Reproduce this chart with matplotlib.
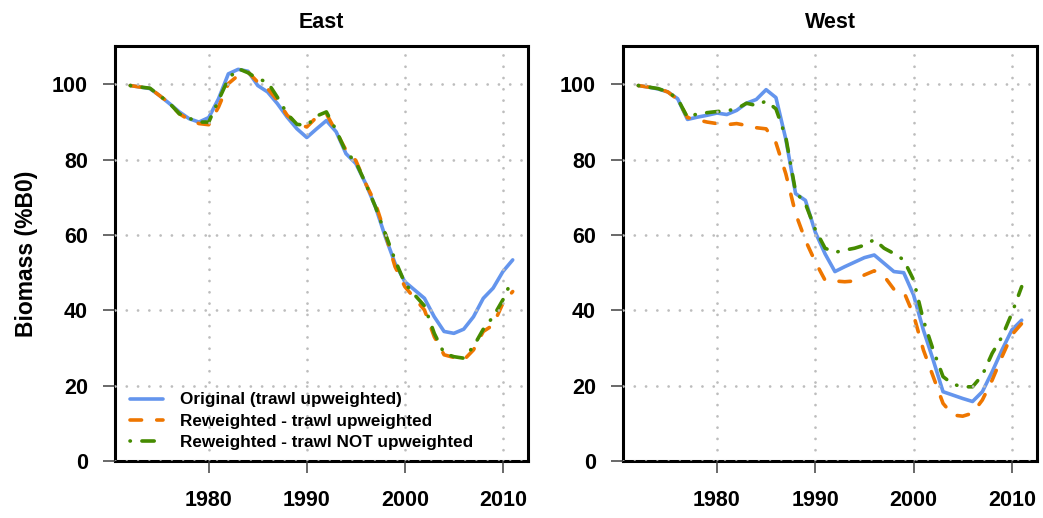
import numpy as np
import matplotlib
matplotlib.use("Agg")
import matplotlib.pyplot as plt

plt.rcParams['font.family'] = ['Liberation Sans', 'DejaVu Sans']
plt.rcParams['font.weight'] = 'bold'

years = np.arange(1972, 2012)

# Biomass (%B0) by region, one list per model run
east_original = [99.7, 99.3, 98.9, 97.0, 94.9, 92.7, 90.9, 90.0, 91.2, 96.2,
                 102.8, 104.0, 103.5, 99.7, 98.0, 94.9, 91.3, 88.2, 85.9, 88.2,
                 90.4, 87.4, 81.6, 79.0, 73.7, 67.5, 59.6, 52.5, 47.6, 45.4,
                 43.2, 38.3, 34.4, 33.9, 35.0, 38.3, 43.2, 45.9, 50.3, 53.4]
east_rw_up = [99.7, 99.3, 99.0, 97.0, 95.0, 92.2, 90.6, 89.6, 89.3, 94.0,
              100.2, 102.4, 103.3, 100.6, 98.9, 95.8, 91.8, 89.6, 88.7, 91.3,
              92.2, 87.4, 82.5, 79.8, 73.7, 68.4, 60.4, 51.6, 46.3, 43.2,
              40.1, 33.0, 28.2, 27.5, 26.8, 29.5, 34.4, 36.1, 41.9, 45.0]
east_rw_notup = [99.7, 99.3, 99.0, 97.0, 95.0, 92.2, 91.0, 90.0, 90.0, 95.8,
                 101.5, 104.2, 103.1, 101.5, 100.6, 96.6, 92.2, 89.4, 89.1, 91.6,
                 92.7, 87.8, 82.0, 79.4, 73.7, 67.5, 60.4, 53.4, 47.2, 44.1,
                 41.2, 33.9, 28.6, 27.7, 27.3, 30.4, 35.0, 38.3, 42.8, 48.5]

west_original = [99.7, 99.3, 98.8, 98.0, 96.2, 90.7, 91.3, 91.8, 92.4, 92.0,
                 93.1, 95.0, 96.0, 98.6, 96.5, 85.5, 71.0, 69.2, 60.8, 55.0,
                 50.3, 51.6, 52.8, 54.0, 54.7, 52.5, 50.3, 50.0, 44.1, 34.8,
                 26.8, 18.4, 17.5, 16.6, 15.8, 18.4, 23.7, 29.5, 34.8, 37.4]
west_rw_up = [99.7, 99.3, 98.9, 98.0, 96.0, 91.2, 90.6, 90.0, 89.6, 89.3,
              89.6, 89.1, 88.5, 88.2, 84.5, 76.3, 65.7, 58.6, 52.9, 48.0,
              47.8, 47.6, 47.8, 49.4, 50.5, 49.1, 45.6, 45.0, 38.8, 29.5,
              22.4, 15.3, 12.2, 11.9, 12.7, 16.2, 21.5, 27.7, 33.5, 36.5]
west_rw_notup = [99.7, 99.3, 98.9, 98.0, 96.2, 91.2, 92.2, 92.5, 92.8, 93.0,
                 93.5, 95.0, 94.4, 95.6, 93.5, 86.0, 71.5, 68.3, 61.5, 56.5,
                 55.4, 56.0, 56.5, 57.3, 58.8, 56.5, 55.1, 53.4, 48.1, 37.4,
                 29.5, 22.4, 20.4, 19.7, 19.7, 22.8, 28.6, 33.0, 39.2, 46.3]

labels = ["Original (trawl upweighted)",
          "Reweighted - trawl upweighted",
          "Reweighted - trawl NOT upweighted"]
colours = ["#6495ED", "#EE7600", "#458B00"]
dash_patterns = [None, (3.2, 4.2), (0.1, 3.2, 3.4, 3.2)]


def draw_panel(ax, series, title):
    for vals, col, dsh, lab in zip(series, colours, dash_patterns, labels):
        line, = ax.plot(years, vals, color=col, lw=2.6, label=lab,
                        solid_capstyle='round', dash_capstyle='round',
                        solid_joinstyle='round', dash_joinstyle='round')
        if dsh is not None:
            line.set_dashes(dsh)
    ax.set_xlim(1970.44, 2012.56)
    ax.set_ylim(0, 110.2)
    ax.set_xticks([1980, 1990, 2000, 2010])
    ax.set_yticks(range(0, 101, 20))
    ax.set_axisbelow(False)
    ax.grid(True, color='#BDBDBD', lw=2.0, linestyle=(0, (0.01, 4.05)),
            dash_capstyle='round')
    for sp in ax.spines.values():
        sp.set_linewidth(2.2)
        sp.set_color('black')
    ax.tick_params(axis='both', direction='out', length=8.6, width=1.1,
                   color='#404040', labelsize=15.5)
    ax.tick_params(axis='x', pad=12)
    ax.tick_params(axis='y', pad=10.8)
    ax.set_title(title, fontsize=15.5, fontweight='bold', pad=13)


fig = plt.figure(figsize=(10.43, 5.18), dpi=100)
ax_e = fig.add_axes([115 / 1043, 57 / 518, 413 / 1043, 415 / 518])
ax_w = fig.add_axes([623 / 1043, 57 / 518, 414 / 1043, 415 / 518])

draw_panel(ax_e, [east_original, east_rw_up, east_rw_notup], "East")
draw_panel(ax_w, [west_original, west_rw_up, west_rw_notup], "West")

ax_e.set_ylabel("Biomass (%B0)", fontsize=16.5, fontweight='bold')
ax_e.yaxis.set_label_coords(-0.186, 0.5)

ax_e.legend(loc='lower left', bbox_to_anchor=(0.036, 0.027), frameon=False,
            fontsize=12.3, handlelength=1.95, handletextpad=1.0,
            labelspacing=0.36, borderpad=0, borderaxespad=0)

fig.savefig("out.png", dpi=100)
